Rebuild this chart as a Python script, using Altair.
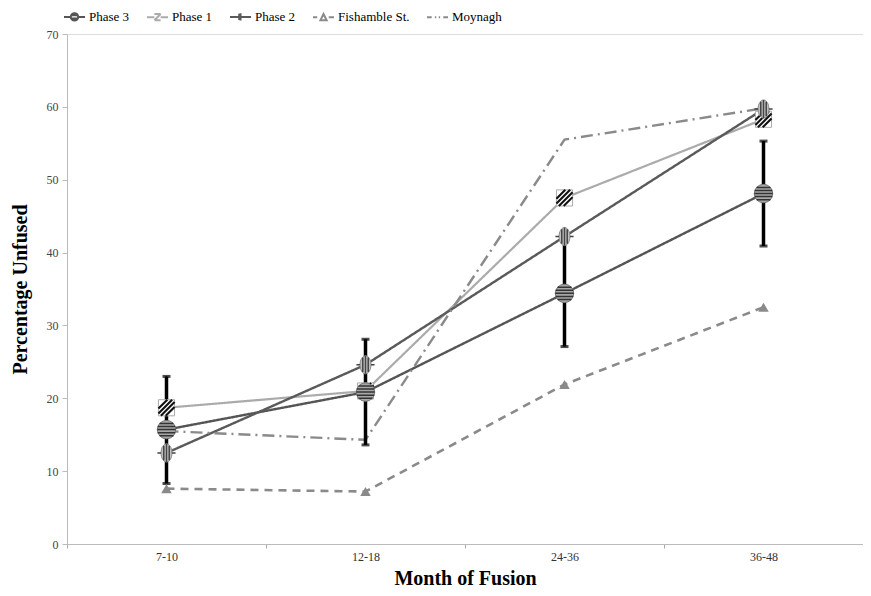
import altair as alt
import pandas as pd

months = ["7-10", "12-18", "24-36", "36-48"]
series_order = ["Phase 3", "Phase 1", "Phase 2", "Fishamble St.", "Moynagh"]

phase3 = [15.7, 20.85, 34.4, 48.1]
phase1 = [18.7, 21.0, 47.5, 58.3]
phase2 = [12.5, 24.6, 42.2, 59.7]
fishamble = [7.6, 7.2, 21.9, 32.5]
moynagh = [15.5, 14.3, 55.5, 59.8]

err_low = [8.3, 13.6, 27.1, 40.9]
err_high = [23.0, 28.1, 41.7, 55.3]

values = {"Phase 3": phase3, "Phase 1": phase1, "Phase 2": phase2,
          "Fishamble St.": fishamble, "Moynagh": moynagh}
rows = []
for s in series_order:
    for m, v in zip(months, values[s]):
        rows.append({"Month": m, "Series": s, "Value": v})
df = pd.DataFrame(rows)
err_df = pd.DataFrame({"Month": months, "lo": err_low, "hi": err_high, "mid": phase3})

colors = ["#555555", "#ababab", "#5a5a5a", "#8a8a8a", "#8a8a8a"]
dashes = [[1, 0], [1, 0], [1, 0], [8, 6], [12, 5, 2, 5]]
widths = [2.4, 2.2, 2.4, 2.6, 2.4]

xscale = alt.Scale(type="band", paddingInner=0, paddingOuter=0)
x = alt.X("Month:N", sort=months, scale=xscale, bandPosition=0.5,
          title="Month of Fusion",
          axis=alt.Axis(labelAngle=0, domainColor="#bbbbbb", tickColor="#aaaaaa",
                        tickBand="extent", tickSize=4,
                        labelFont="Liberation Serif", labelFontSize=12, labelColor="#333333",
                        titleFont="Liberation Serif", titleFontSize=20, titleFontWeight="bold",
                        titleColor="#000000", titlePadding=6, labelPadding=3))
xs = alt.X("Month:N", sort=months, scale=xscale, bandPosition=0.5)
y = alt.Y("Value:Q", scale=alt.Scale(domain=[0, 70], nice=False), title="Percentage Unfused",
          axis=alt.Axis(values=list(range(0, 71, 10)), grid=False, domainColor="#bbbbbb",
                        tickColor="#bbbbbb", tickSize=5, labelFont="Liberation Serif",
                        labelFontSize=12, labelColor="#444444", labelPadding=4,
                        titleFont="Liberation Serif", titleFontSize=20, titleFontWeight="bold",
                        titleColor="#000000", titlePadding=16))


def sel(name):
    return df[df["Series"] == name]


line_layers = []
for i, s in enumerate(series_order):
    enc_x = x if i == 0 else xs
    enc_y = y if i == 0 else alt.Y("Value:Q")
    line_layers.append(
        alt.Chart(sel(s)).mark_line(strokeWidth=widths[i], color=colors[i],
                                    strokeDash=dashes[i]).encode(x=enc_x, y=enc_y)
    )

# legend glyphs (line + marker), drawn by the legend only
leg_paths = [
    "M-1,0L-0.35,0M0.35,0L1,0M-0.35,0A0.35,0.35,0,1,1,0.35,0A0.35,0.35,0,1,1,-0.35,0M-0.3,-0.15L0.3,-0.15M-0.3,0.15L0.3,0.15",
    "M-1,0L-0.3,0M0.3,0L1,0M-0.3,0.3L0.3,-0.3M-0.3,-0.3L0.3,-0.3M-0.3,0.3L0.3,0.3",
    "M-1,0L1,0M0,-0.35L0,0.35M-0.12,-0.3L-0.12,0.3",
    "M-1,0L-0.6,0M0.5,0L1,0M-0.3,0.3L0,-0.3L0.3,0.3Z",
    "M-1,0L-0.55,0M-0.25,0L-0.12,0M0.12,0L0.25,0M0.55,0L1,0",
]
leg = alt.Legend(title=None, orient="none", direction="horizontal",
                 legendX=-4, legendY=-29, symbolSize=441,
                 symbolStrokeWidth=2, symbolOpacity=1,
                 symbolFillColor="transparent",
                 labelFont="Liberation Serif", labelFontSize=13,
                 labelColor="#000000", columnPadding=13, labelOffset=3)
legend_layer = alt.Chart(df).mark_point(filled=False, opacity=0, size=1).encode(
    x=xs, y="Value:Q",
    color=alt.Color("Series:N", scale=alt.Scale(domain=series_order, range=colors), legend=leg),
    shape=alt.Shape("Series:N", scale=alt.Scale(domain=series_order, range=leg_paths), legend=leg),
)

ebar = alt.Chart(err_df).mark_rule(color="#000000", strokeWidth=3.5).encode(
    x=xs, y=alt.Y("lo:Q"), y2="hi:Q")
cap_lo = alt.Chart(err_df).mark_tick(color="#000000", thickness=3, size=8, orient="horizontal").encode(
    x=xs, y=alt.Y("lo:Q"))
cap_hi = alt.Chart(err_df).mark_tick(color="#000000", thickness=3, size=8, orient="horizontal").encode(
    x=xs, y=alt.Y("hi:Q"))

circle_h = "M-0.75,-0.66L0.75,-0.66M-0.94,-0.33L0.94,-0.33M-1,0L1,0M-0.94,0.33L0.94,0.33M-0.75,0.66L0.75,0.66"
ellipse = "M0,-1A0.6,1,0,1,1,0,1A0.6,1,0,1,1,0,-1Z"
ellipse_v = "M-0.3,-0.8L-0.3,0.8M0,-1L0,1M0.3,-0.8L0.3,0.8M-1,0L-0.6,0M0.6,0L1,0"
square = "M-1,-1L1,-1L1,1L-1,1Z"
hatch = "M-1,0.1L0.1,-1M-1,0.7L0.7,-1M-0.7,1L1,-0.7M-0.1,1L1,-0.1"

p3_base = alt.Chart(sel("Phase 3")).mark_point(shape="circle", filled=True, fill="#a8a8a8",
                                               stroke="#777777", strokeWidth=1, size=340, opacity=1).encode(
    x=xs, y="Value:Q")
p3_lines = alt.Chart(sel("Phase 3")).mark_point(shape=circle_h, filled=False, stroke="#333333",
                                                strokeWidth=1.5, size=340, opacity=1).encode(
    x=xs, y="Value:Q")

p1_base = alt.Chart(sel("Phase 1")).mark_point(shape=square, filled=True, fill="#ffffff",
                                               stroke="#aaaaaa", strokeWidth=1, size=260, opacity=1).encode(
    x=xs, y="Value:Q")
p1_lines = alt.Chart(sel("Phase 1")).mark_point(shape=hatch, filled=False, stroke="#111111",
                                                strokeWidth=2.1, size=260, opacity=1).encode(
    x=xs, y="Value:Q")

p2_base = alt.Chart(sel("Phase 2")).mark_point(shape=ellipse, filled=True, fill="#c0c0c0",
                                               stroke="#888888", strokeWidth=1, size=330, opacity=1).encode(
    x=xs, y="Value:Q")
p2_lines = alt.Chart(sel("Phase 2")).mark_point(shape=ellipse_v, filled=False, stroke="#444444",
                                                strokeWidth=1.5, size=330, opacity=1).encode(
    x=xs, y="Value:Q")

fish_pts = alt.Chart(sel("Fishamble St.")).mark_point(shape="triangle-up", filled=True, fill="#8a8a8a",
                                                      size=110, opacity=1).encode(
    x=xs, y="Value:Q")

chart = alt.layer(*line_layers, legend_layer, ebar, cap_lo, cap_hi, fish_pts, p1_base, p1_lines,
                  p3_base, p3_lines, p2_base, p2_lines).properties(
    width=796, height=510,
    autosize=alt.AutoSizeParams(type="none"),
    padding={"left": 59, "top": 26, "right": 0, "bottom": 44},
).configure_view(stroke=None).configure(background="#ffffff")

chart.save("out.html", embed_options={"renderer": "svg", "actions": False})
